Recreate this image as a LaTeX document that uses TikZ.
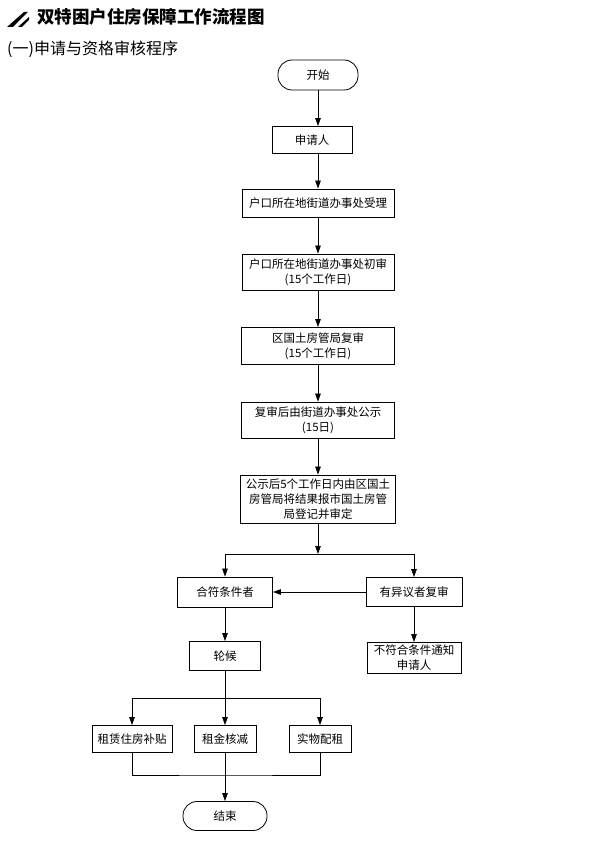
\documentclass[tikz,border=0pt]{standalone}
\usepackage{fontspec}
\setmainfont{Noto Sans CJK SC}
\usetikzlibrary{arrows.meta}
\newcommand{\boxfont}{\fontsize{11.5pt}{15pt}\selectfont}
\tikzset{
  terminal/.style={
    rectangle, rounded corners=14pt, minimum height=30pt,
    draw=black, line width=0.8pt, text centered, font=\boxfont
  },
  process/.style={
    rectangle, minimum height=28pt, inner sep=2pt,
    draw=black, line width=0.8pt, align=center, font=\boxfont
  },
  arrow/.style={-{Triangle[length=8pt,width=5.5pt]}, line width=0.7pt},
  link/.style={line width=0.7pt}
}

\begin{document}
\begin{tikzpicture}[x=1pt, y=-1pt]
    \useasboundingbox (0,0) rectangle (600,842);
    % heading
    \fill (7,27) -- (24,12) -- (28,12) -- (13,27) -- cycle;
    \fill (18,27) -- (29,17) -- (29,20) -- (22,27) -- cycle;
    \node[anchor=west, inner sep=0pt, font=\fontsize{17.5pt}{20pt}\selectfont\bfseries] (title) at (37,17) {双特困户住房保障工作流程图};
    \node[anchor=west, inner sep=0pt, font=\fontsize{16pt}{18pt}\selectfont] (subtitle) at (7,49) {(一)申请与资格审核程序};

    % main column
    \node[terminal, minimum width=80pt] (start) at (318,75) {开始};
    \node[process, minimum width=80pt, minimum height=27pt] (applicant) at (312,140) {申请人};
    \node[process, minimum width=152pt] (accept) at (318,203) {户口所在地街道办事处受理};
    \node[process, minimum width=152pt, minimum height=36pt] (firstcheck) at (318,272) {户口所在地街道办事处初审\\(15个工作日)};
    \node[process, minimum width=153pt, minimum height=37pt] (recheck) at (318,346) {区国土房管局复审\\(15个工作日)};
    \node[process, minimum width=153pt, minimum height=36pt] (notice) at (318,420) {复审后由街道办事处公示\\(15日)};
    \node[process, minimum width=155pt, minimum height=48pt] (approve) at (318,499) {公示后5个工作日内由区国土\\房管局将结果报市国土房管\\局登记并审定};
    \coordinate (split) at (318,554);

    % branches
    \node[process, minimum width=95pt, minimum height=30pt] (eligible) at (225,592) {合符条件者};
    \node[process, minimum width=96pt, minimum height=29pt] (objection) at (414,592) {有异议者复审};
    \node[process, minimum width=94pt, minimum height=31pt] (rejected) at (414,658) {不符合条件通知\\申请人};
    \node[process, minimum width=71pt, minimum height=29pt] (queue) at (225,656) {轮候};
    \coordinate (fork) at (225,698);
    \node[process, minimum width=80pt, minimum height=27pt] (subsidy) at (132,739) {租赁住房补贴};
    \node[process, minimum width=62pt, minimum height=27pt] (rentcut) at (225,739) {租金核减};
    \node[process, minimum width=62pt, minimum height=27pt] (inkind) at (320,739) {实物配租};
    \coordinate (join) at (225,775);
    \node[terminal, minimum width=84pt, minimum height=29pt] (finish) at (225,816) {结束};

    \draw[arrow] (start) -- (start |- applicant.north);
    \draw[arrow] (start |- applicant.south) -- (accept);
    \draw[arrow] (accept) -- (firstcheck);
    \draw[arrow] (firstcheck) -- (recheck);
    \draw[arrow] (recheck) -- (notice);
    \draw[arrow] (notice) -- (approve);
    \draw[arrow] (approve) -- (split);
    \draw[arrow] (split) -| (eligible);
    \draw[arrow] (split) -| (objection);
    \draw[arrow] (objection) -- (eligible);
    \draw[arrow] (objection) -- (rejected);
    \draw[arrow] (eligible) -- (queue);
    \draw[arrow] (queue) -- (rentcut);
    \draw[arrow] (fork) -| (subsidy);
    \draw[arrow] (fork) -| (inkind);
    \draw[link] (subsidy) |- (join) -| (inkind);
    \draw[arrow] (rentcut) -- (finish);
\end{tikzpicture}
\end{document}
